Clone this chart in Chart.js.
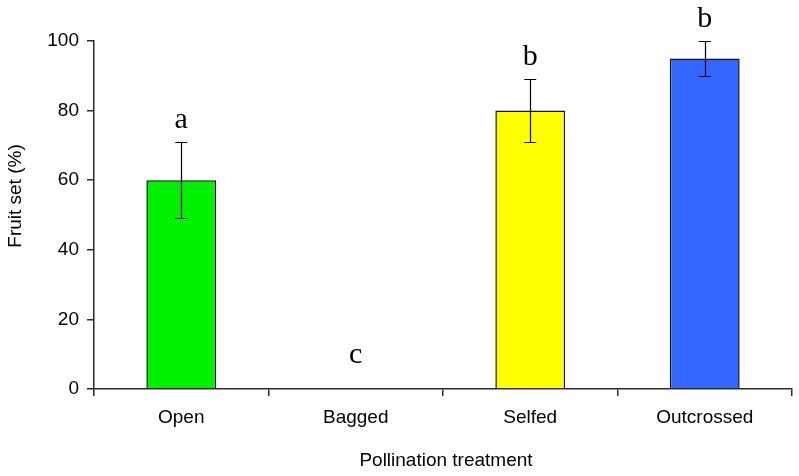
<!DOCTYPE html>
<html>
<head>
<meta charset="utf-8">
<script src="https://cdn.jsdelivr.net/npm/chart.js@4/dist/chart.umd.min.js"></script>
<style>
  html, body { margin: 0; padding: 0; background: #ffffff; }
  #wrap { width: 799px; height: 476px; }
</style>
</head>
<body>
<div id="wrap"><canvas id="c" width="799" height="476"></canvas></div>
<script>
// ---- data ----
const categories = ['Open', 'Bagged', 'Selfed', 'Outcrossed'];
const fruitSet = [60, 0, 80, 95];
const errors = [11, 0, 9, 5];
const letters = ['a', 'c', 'b', 'b'];
const barColors = ['#00f000', 'rgba(0,0,0,0)', '#ffff00', '#3366ff'];
const yTicks = [0, 20, 40, 60, 80, 100];

const SANS = '"Liberation Sans", Arial, sans-serif';
const SERIF = '"Liberation Serif", "Times New Roman", serif';
const AXIS = '#2a2a2a';

const overlay = {
  id: 'overlay',
  afterDatasetsDraw(chart) {
    const ctx = chart.ctx;
    const meta = chart.getDatasetMeta(0);
    const y = chart.scales.y;
    ctx.save();
    meta.data.forEach((bar, i) => {
      const v = fruitSet[i];
      const e = errors[i];
      const x = bar.x;
      let top;
      if (e > 0) {
        const yHi = y.getPixelForValue(v + e);
        const yLo = y.getPixelForValue(v - e);
        ctx.strokeStyle = '#000';
        ctx.lineWidth = 1.2;
        ctx.beginPath();
        ctx.moveTo(Math.round(x) + 0.5, yHi);
        ctx.lineTo(Math.round(x) + 0.5, yLo);
        ctx.moveTo(x - 6, Math.round(yHi) + 0.5);
        ctx.lineTo(x + 6, Math.round(yHi) + 0.5);
        ctx.moveTo(x - 6, Math.round(yLo) + 0.5);
        ctx.lineTo(x + 6, Math.round(yLo) + 0.5);
        ctx.stroke();
        top = yHi - 14;
      } else {
        top = y.getPixelForValue(v) - 26;
      }
      ctx.fillStyle = '#000';
      ctx.font = '30px ' + SERIF;
      ctx.textAlign = 'center';
      ctx.textBaseline = 'alphabetic';
      ctx.fillText(letters[i], x, top);
    });
    ctx.restore();
  },
  afterDraw(chart) {
    const ctx = chart.ctx;
    ctx.save();
    ctx.fillStyle = '#000';
    ctx.font = '19px ' + SANS;
    ctx.textAlign = 'center';
    ctx.textBaseline = 'middle';
    ctx.fillText('Pollination treatment', 446, 461);
    ctx.translate(16, 196);
    ctx.rotate(-Math.PI / 2);
    ctx.fillText('Fruit set (%)', 0, 0);
    ctx.restore();
  }
};

new Chart(document.getElementById('c'), {
  type: 'bar',
  data: {
    labels: categories,
    datasets: [{
      data: fruitSet,
      backgroundColor: barColors,
      borderColor: '#111',
      borderWidth: 1.5,
      categoryPercentage: 1.0,
      barPercentage: 0.4
    }]
  },
  options: {
    responsive: false,
    animation: false,
    devicePixelRatio: 1,
    layout: { padding: { top: 41, right: 7, left: 0, bottom: 0 } },
    plugins: { legend: { display: false }, tooltip: { enabled: false } },
    scales: {
      x: {
        grid: { offset: true, drawOnChartArea: false, drawTicks: true, tickLength: 7, color: AXIS, lineWidth: 1.5 },
        border: { display: true, color: AXIS, width: 1.5 },
        ticks: { color: '#000', font: { family: SANS, size: 19 }, padding: 10 },
        afterFit(s) { s.height = 87; }
      },
      y: {
        min: 0, max: 100,
        afterBuildTicks(s) { s.ticks = yTicks.map(v => ({ value: v })); },
        grid: { drawOnChartArea: false, drawTicks: true, tickLength: 7, color: AXIS, lineWidth: 1.5 },
        border: { display: true, color: AXIS, width: 1.5 },
        ticks: { color: '#000', font: { family: SANS, size: 19 }, padding: 8 },
        afterFit(s) { s.width = 94; }
      }
    }
  },
  plugins: [overlay]
});
</script>
</body>
</html>
